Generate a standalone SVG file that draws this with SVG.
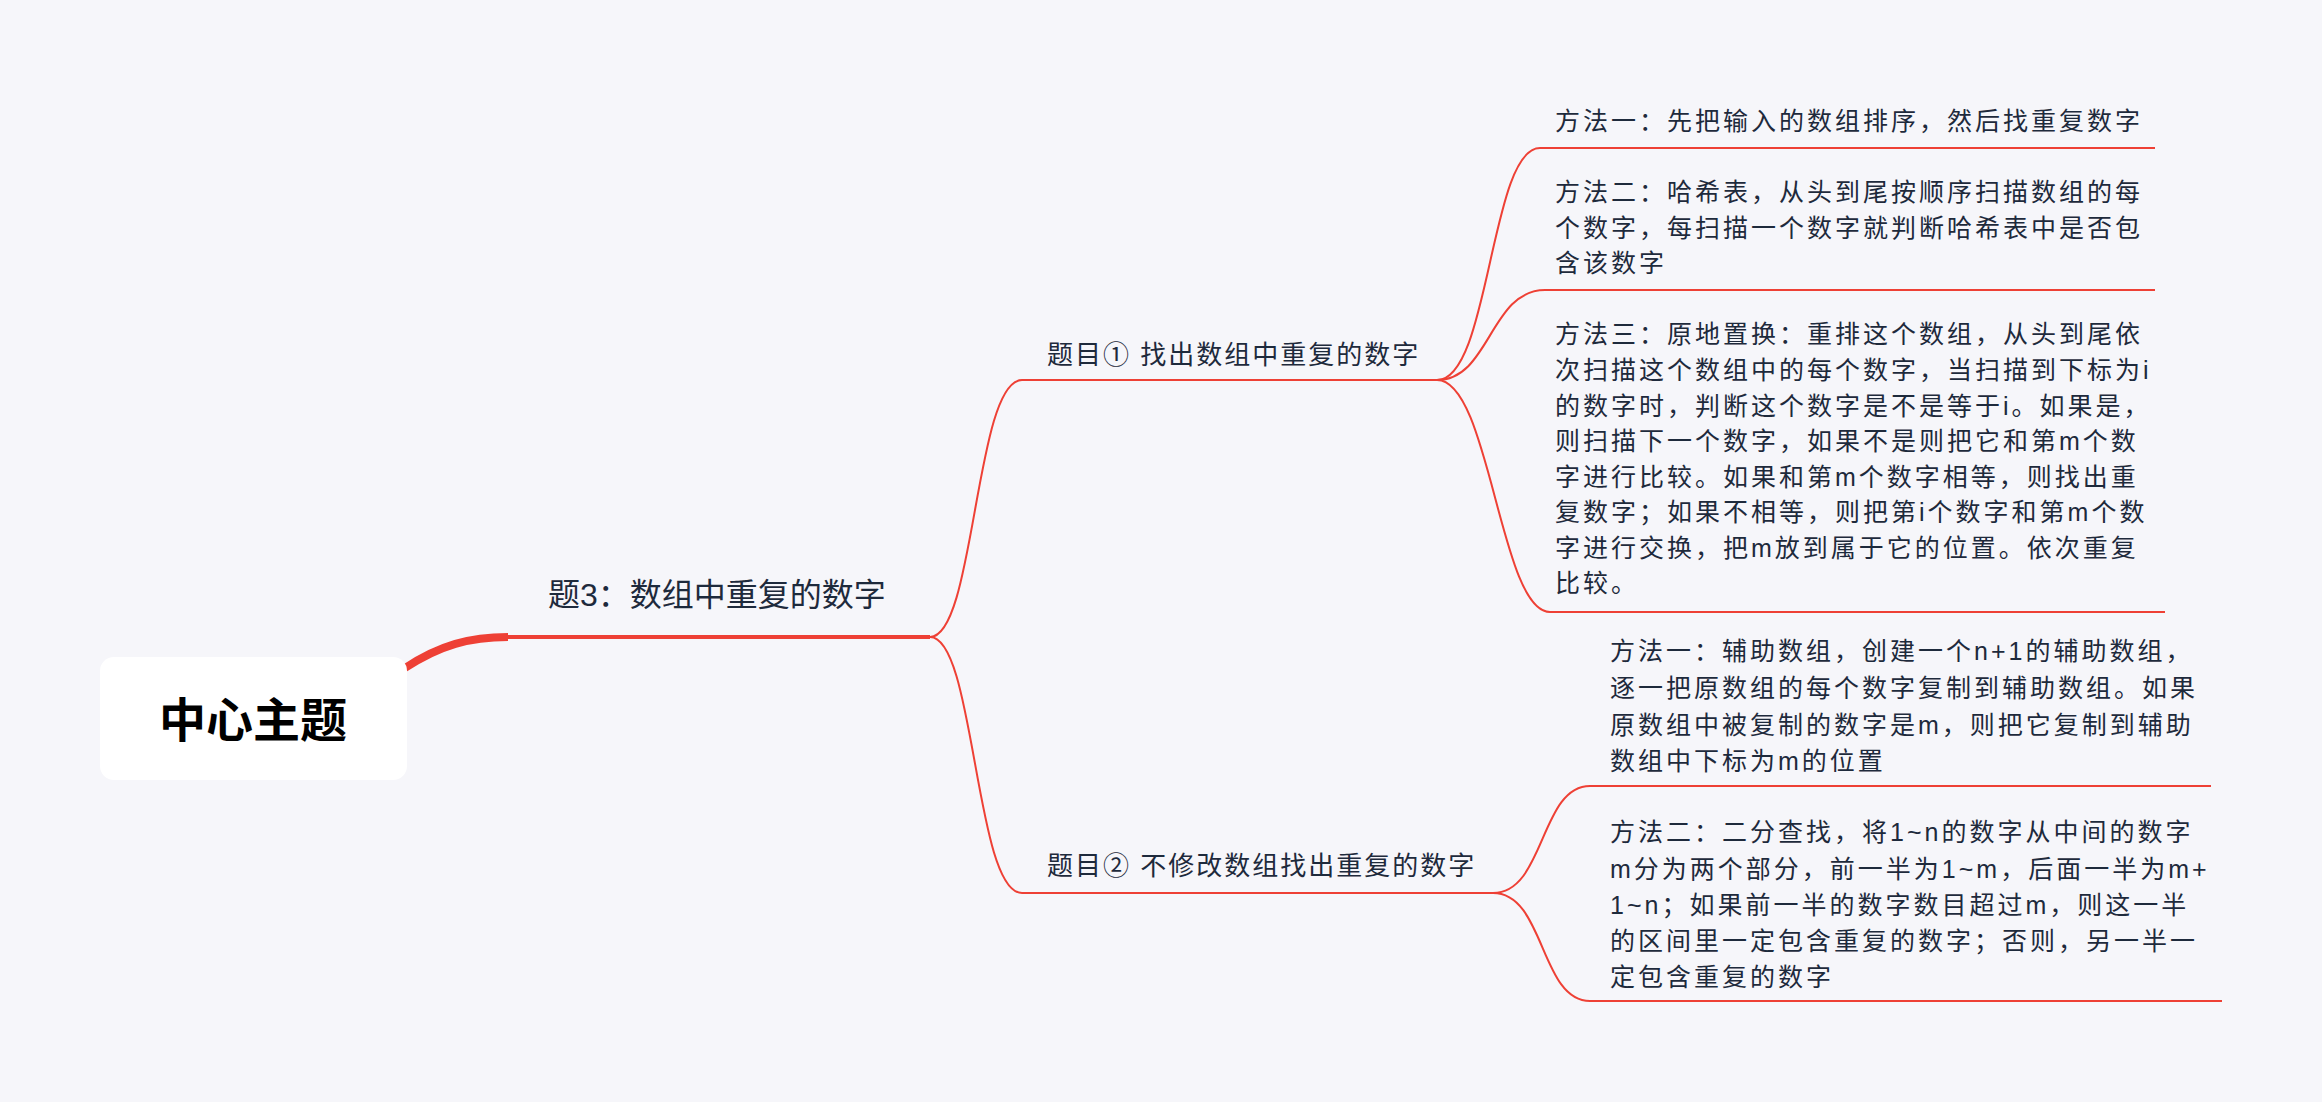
<svg xmlns="http://www.w3.org/2000/svg" width="2322" height="1102" viewBox="0 0 2322 1102">
<style>
.t{font-family:"Liberation Sans","Noto Sans CJK SC",sans-serif;fill:#1e2a3c}
.c{font-size:25px;letter-spacing:3px}
.tp{font-size:26px;letter-spacing:2px}
.ln{fill:none;stroke:#ee4035;stroke-width:2}
</style>
<rect width="2322" height="1102" fill="#f6f6fa"/>
<g id="connectors">
<path d="M405,668 C440,645 470,637 508,637" fill="none" stroke="#ee4035" stroke-width="8"/>
<path d="M508,637 H930" fill="none" stroke="#ee4035" stroke-width="4"/>
<path class="ln" stroke-width="3" d="M930,637 C975,637 975,380 1022,380 H1437"/>
<path class="ln" stroke-width="3" d="M930,637 C975,637 975,893 1022,893 H1493"/>
<path class="ln" d="M1437,380 C1490,380 1490,148 1540,148 H2155"/>
<path class="ln" d="M1437,380 C1490,380 1490,290 1545,290 H2155"/>
<path class="ln" d="M1437,380 C1490,380 1500,612 1550,612 H2165"/>
<path class="ln" d="M1493,893 C1545,893 1540,786 1590,786 H2211"/>
<path class="ln" d="M1493,893 C1545,893 1540,1001 1590,1001 H2222"/>
</g>
<g id="center">
<rect x="100" y="657" width="307" height="123" rx="14" fill="#fff"/>
<text class="t" x="253" y="737" font-size="47" font-weight="bold" text-anchor="middle" style="fill:#000">中心主题</text>
</g>
<g id="main"><text class="t" x="548" y="606" font-size="32">题3：数组中重复的数字</text></g>
<g id="topic1"><text class="t tp" x="1047" y="364">题目① 找出数组中重复的数字</text></g>
<g id="topic2"><text class="t tp" x="1047" y="875">题目② 不修改数组找出重复的数字</text></g>
<g id="m1"><text class="t c" x="1555" y="130">方法一：先把输入的数组排序，然后找重复数字</text></g>
<g id="m2"><text class="t c">
<tspan x="1555" y="201">方法二：哈希表，从头到尾按顺序扫描数组的每</tspan>
<tspan x="1555" y="237">个数字，每扫描一个数字就判断哈希表中是否包</tspan>
<tspan x="1555" y="272">含该数字</tspan></text></g>
<g id="m3"><text class="t c">
<tspan x="1555" y="343">方法三：原地置换：重排这个数组，从头到尾依</tspan>
<tspan x="1555" y="379">次扫描这个数组中的每个数字，当扫描到下标为i</tspan>
<tspan x="1555" y="415">的数字时，判断这个数字是不是等于i。如果是，</tspan>
<tspan x="1555" y="450">则扫描下一个数字，如果不是则把它和第m个数</tspan>
<tspan x="1555" y="486">字进行比较。如果和第m个数字相等，则找出重</tspan>
<tspan x="1555" y="521">复数字；如果不相等，则把第i个数字和第m个数</tspan>
<tspan x="1555" y="557">字进行交换，把m放到属于它的位置。依次重复</tspan>
<tspan x="1555" y="592">比较。</tspan></text></g>
<g id="n1"><text class="t c">
<tspan x="1610" y="660">方法一：辅助数组，创建一个n+1的辅助数组，</tspan>
<tspan x="1610" y="697">逐一把原数组的每个数字复制到辅助数组。如果</tspan>
<tspan x="1610" y="734">原数组中被复制的数字是m，则把它复制到辅助</tspan>
<tspan x="1610" y="770">数组中下标为m的位置</tspan></text></g>
<g id="n2"><text class="t c">
<tspan x="1610" y="841">方法二：二分查找，将1~n的数字从中间的数字</tspan>
<tspan x="1610" y="878">m分为两个部分，前一半为1~m，后面一半为m+</tspan>
<tspan x="1610" y="914">1~n；如果前一半的数字数目超过m，则这一半</tspan>
<tspan x="1610" y="950">的区间里一定包含重复的数字；否则，另一半一</tspan>
<tspan x="1610" y="986">定包含重复的数字</tspan></text></g>
</svg>
